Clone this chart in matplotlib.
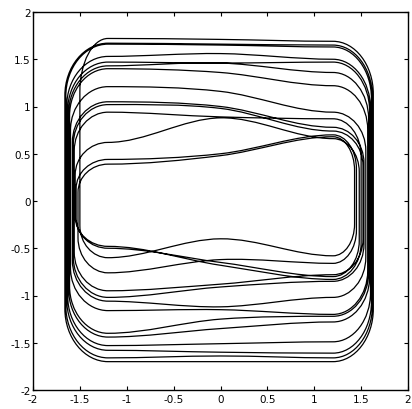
import matplotlib
matplotlib.use("Agg")
import matplotlib.pyplot as plt
from matplotlib.path import Path
from matplotlib.patches import PathPatch

# Upper passes (moving right): y at x=-1, x=0, x=+1
top_left = [1.72, 1.67, 1.66, 1.53, 1.47, 1.43, 1.40, 1.21, 1.05, 1.02, 0.94, 0.62, 0.44, 0.39]
top_mid = [1.71, 1.66, 1.65, 1.56, 1.46, 1.46, 1.36, 1.16, 1.00, 0.98, 0.89, 0.88, 0.50, 0.48]
top_right = [1.69, 1.65, 1.63, 1.50, 1.47, 1.36, 1.22, 0.94, 0.78, 0.74, 0.87, 0.66, 0.70, 0.68]
# Lower passes (moving left): y at x=+1, x=0, x=-1
bot_right = [-1.70, -1.66, -1.61, -1.49, -1.28, -1.22, -1.20, -1.02, -0.85, -0.78, -0.83, -0.80, -0.66, -0.58]
bot_mid = [-1.70, -1.64, -1.60, -1.51, -1.35, -1.25, -1.15, -1.12, -0.91, -0.88, -0.68, -0.65, -0.62, -0.40]
bot_left = [-1.70, -1.66, -1.58, -1.53, -1.44, -1.40, -1.16, -1.06, -1.02, -0.95, -0.48, -0.50, -0.76, -0.60]
# Side positions of each loop
right_x = [1.63, 1.62, 1.61, 1.60, 1.59, 1.58, 1.57, 1.55, 1.53, 1.52, 1.50, 1.48, 1.45, 1.43]
left_x = [-1.66, -1.65, -1.64, -1.63, -1.62, -1.61, -1.60, -1.58, -1.57, -1.56, -1.55, -1.54, -1.52, -1.50]

xticks = [-2, -1.5, -1, -0.5, 0, 0.5, 1, 1.5, 2]
ticklabels = ["-2", "-1.5", "-1", "-0.5", "0", "0.5", "1", "1.5", "2"]

XH = 1.2   # where the flat passes end
K = 0.55

verts = []
codes = []


def ry(y):
    return 0.22 + 0.2 * abs(y)


def move(p):
    verts.append(p); codes.append(Path.MOVETO)


def line(p):
    verts.append(p); codes.append(Path.LINETO)


def cub(a, b, c):
    verts.extend([a, b, c]); codes.extend([Path.CURVE4] * 3)


n = len(top_left)
move((-XH, top_left[0]))
for i in range(n):
    yl, ym, yr = top_left[i], top_mid[i], top_right[i]
    s = (yr - yl) / (2 * XH)
    cub((-2 * XH / 3, yl), (-XH / 3, ym - s * XH / 3), (0, ym))
    cub((XH / 3, ym + s * XH / 3), (2 * XH / 3, yr), (XH, yr))
    xs = right_x[i]
    br, bm, bl = bot_right[i], bot_mid[i], bot_left[i]
    r1, r2 = ry(yr), ry(br)
    cub((XH + K * (xs - XH), yr), (xs, yr - (1 - K) * r1), (xs, yr - r1))
    line((xs, br + r2))
    cub((xs, br + (1 - K) * r2), (XH + K * (xs - XH), br), (XH, br))
    s2 = (br - bl) / (2 * XH)
    cub((2 * XH / 3, br), (XH / 3, bm + s2 * XH / 3), (0, bm))
    cub((-XH / 3, bm - s2 * XH / 3), (-2 * XH / 3, bl), (-XH, bl))
    xl = left_x[i]
    ny = top_left[(i + 1) % n]
    r3, r4 = ry(bl), ry(ny)
    cub((-XH + K * (xl + XH), bl), (xl, bl + (1 - K) * r3), (xl, bl + r3))
    line((xl, ny - r4))
    cub((xl, ny - (1 - K) * r4), (-XH + K * (xl + XH), ny), (-XH, ny))

fig = plt.figure(figsize=(4.12, 4.10), dpi=100)
ax = fig.add_axes([33 / 412, 1 - 391 / 410, 375 / 412, 378 / 410])
ax.add_patch(PathPatch(Path(verts, codes), facecolor="none", edgecolor="black", lw=0.9))
ax.set_xlim(-2, 2)
ax.set_ylim(-2, 2)
ax.set_xticks(xticks)
ax.set_yticks(xticks)
ax.set_xticklabels(ticklabels)
ax.set_yticklabels(ticklabels)
ax.tick_params(direction="in", length=3, width=0.8, top=True, right=True,
               labelsize=7.5, pad=1.5)
ax.tick_params(axis="x", pad=3)
for sp in ax.spines.values():
    sp.set_linewidth(1.0)
fig.savefig("out.png", dpi=100)
